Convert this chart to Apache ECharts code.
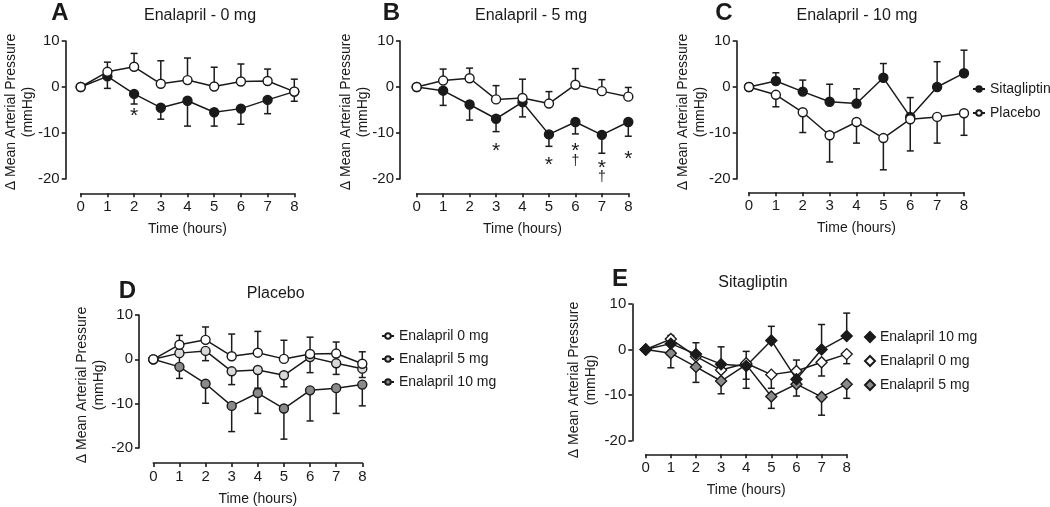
<!DOCTYPE html>
<html>
<head>
<meta charset="utf-8">
<script src="https://cdn.jsdelivr.net/npm/echarts@6/dist/echarts.min.js"></script>
<style>
html, body { margin: 0; padding: 0; background: #fff; }
#chart { width: 1050px; height: 507px; }
</style>
</head>
<body>
<div id="chart"></div>
<script>
// time points (hours)
var hours = [0, 1, 2, 3, 4, 5, 6, 7, 8];

// placebo arms (mean change, SEM), mmHg
var placebo0 = [0, 3.3, 4.4, 0.7, 1.5, 0.1, 1.2, 1.3, -1.0];
var placebo0Sem = [0, 2.1, 2.9, 5.0, 4.8, 4.2, 3.8, 2.6, 2.7];
var placebo5 = [0, 1.4, 1.9, -2.7, -2.4, -3.6, 0.5, -0.9, -2.1];
var placebo5Sem = [0, 2.5, 2.2, 3.0, 4.1, 2.6, 3.5, 2.5, 2.0];
var placebo10 = [0, -1.7, -5.5, -10.5, -7.6, -11.1, -7.0, -6.5, -5.7];
var placebo10Sem = [0, 2.6, 4.4, 5.8, 4.6, 6.9, 6.9, 5.7, 4.8];

// sitagliptin arms
var sita0 = [0, 2.3, -1.5, -4.5, -3.0, -5.5, -4.7, -2.8, -1.0];
var sita0Sem = [0, 2.6, 2.2, 2.5, 5.5, 3.0, 3.4, 3.0, 2.1];
var sita5 = [0, -0.8, -3.8, -6.9, -3.3, -10.3, -7.6, -10.4, -7.6];
var sita5Sem = [0, 3.2, 3.4, 2.8, 3.2, 2.6, 2.6, 4.0, 3.1];
var sita10 = [0, 1.3, -1.0, -3.2, -3.6, 2.0, -6.5, 0, 3.0];
var sita10Sem = [0, 1.8, 2.5, 3.8, 3.2, 3.1, 4.2, 5.5, 5.0];

// significance marks [hour, y, symbol]
var marksA = [[2, -5.4, '*']];
var marksB = [[3, -13, '*'], [5, -16.1, '*'], [6, -13, '*'], [6, -16.1, '\u2020'],
              [7, -16.6, '*'], [7, -19.6, '\u2020'], [8, -14.8, '*']];

var FONT = "'Liberation Sans', Arial, sans-serif";
var INK = '#1a1a1a';

// panel layout: grid box + axis offsets
var panels = [
  { left: 80.7, top: 41, width: 213.6, height: 138, yOff: 15, xOff: 14.3 },
  { left: 416.7, top: 41, width: 211.6, height: 138, yOff: 16.7, xOff: 14.3 },
  { left: 749, top: 41, width: 215, height: 138, yOff: 12.3, xOff: 13.3 },
  { left: 153.3, top: 315, width: 209, height: 134, yOff: 14.3, xOff: 15 },
  { left: 645.7, top: 304, width: 201, height: 136.7, yOff: 13.4, xOff: 13.6 }
];

var grids = [], xAxes = [], yAxes = [], series = [];

panels.forEach(function (p, i) {
  grids.push({ left: p.left, top: p.top, width: p.width, height: p.height });
  xAxes.push({
    type: 'value', gridIndex: i, min: 0, max: 8, interval: 1, offset: p.xOff,
    name: 'Time (hours)', nameLocation: 'middle', nameGap: 29,
    nameTextStyle: { fontSize: 14, fontFamily: FONT, color: INK },
    axisLine: { onZero: false, lineStyle: { color: INK, width: 1.6 } },
    axisTick: { length: 4, lineStyle: { color: INK, width: 1.6 } },
    axisLabel: { fontSize: 15, fontFamily: FONT, color: INK, margin: 6 },
    splitLine: { show: false }
  });
  yAxes.push({
    type: 'value', gridIndex: i, min: -20, max: 10, interval: 10, offset: p.yOff,
    axisLine: { show: true, onZero: false, lineStyle: { color: INK, width: 1.6 } },
    axisTick: { show: true, length: 4, lineStyle: { color: INK, width: 1.6 } },
    axisLabel: { fontSize: 15, fontFamily: FONT, color: INK, margin: 6 },
    splitLine: { show: false }
  });
});

function line(name, g, vals, fill, symbol, size) {
  return {
    name: name, type: 'line', xAxisIndex: g, yAxisIndex: g,
    data: hours.map(function (h, k) { return [h, vals[k]]; }),
    symbol: symbol, symbolSize: size, showSymbol: true,
    itemStyle: { color: fill, borderColor: INK, borderWidth: 1.4 },
    lineStyle: { color: INK, width: 1.5 },
    emphasis: { disabled: true }, z: 3, animation: false
  };
}

function errorBars(g, vals, sem, dir) {
  return {
    type: 'custom', xAxisIndex: g, yAxisIndex: g, z: 2, animation: false, silent: true,
    data: hours.map(function (h, k) { return [h, vals[k], vals[k] + dir * sem[k]]; }),
    encode: { x: 0, y: [1, 2] },
    renderItem: function (params, api) {
      var a = api.coord([api.value(0), api.value(1)]);
      var b = api.coord([api.value(0), api.value(2)]);
      if (Math.abs(a[1] - b[1]) < 0.5) return null;
      var st = { stroke: INK, lineWidth: 1.5 };
      return {
        type: 'group', children: [
          { type: 'line', shape: { x1: a[0], y1: a[1], x2: b[0], y2: b[1] }, style: st },
          { type: 'line', shape: { x1: b[0] - 3.5, y1: b[1], x2: b[0] + 3.5, y2: b[1] }, style: st }
        ]
      };
    }
  };
}

function marks(g, list) {
  return {
    type: 'custom', xAxisIndex: g, yAxisIndex: g, z: 4, animation: false, silent: true,
    data: list.map(function (m) { return [m[0], m[1]]; }),
    renderItem: function (params, api) {
      var m = list[params.dataIndex];
      var c = api.coord([m[0], m[1]]);
      var star = m[2] === '*';
      var size = star ? 21 : 14;
      return {
        type: 'text', x: c[0], y: c[1] + (star ? size * 0.22 : 0),
        style: { text: m[2], fill: INK, font: size + 'px ' + FONT,
                 textAlign: 'center', textVerticalAlign: 'middle' }
      };
    }
  };
}

var WHITE = '#ffffff', LIGHT = '#d9d9d9', GREY = '#8a8a8a';

// A: Enalapril 0 mg
series.push(errorBars(0, placebo0, placebo0Sem, 1), errorBars(0, sita0, sita0Sem, -1));
series.push(line('A|Sitagliptin', 0, sita0, INK, 'circle', 9), line('A|Placebo', 0, placebo0, WHITE, 'circle', 9));
series.push(marks(0, marksA));
// B: Enalapril 5 mg
series.push(errorBars(1, placebo5, placebo5Sem, 1), errorBars(1, sita5, sita5Sem, -1));
series.push(line('B|Sitagliptin', 1, sita5, INK, 'circle', 9), line('B|Placebo', 1, placebo5, WHITE, 'circle', 9));
series.push(marks(1, marksB));
// C: Enalapril 10 mg
series.push(errorBars(2, sita10, sita10Sem, 1), errorBars(2, placebo10, placebo10Sem, -1));
series.push(line('C|Sitagliptin', 2, sita10, INK, 'circle', 9), line('C|Placebo', 2, placebo10, WHITE, 'circle', 9));
// D: Placebo
series.push(errorBars(3, placebo0, placebo0Sem, 1), errorBars(3, placebo5, placebo5Sem, -1), errorBars(3, placebo10, placebo10Sem, -1));
series.push(line('D|Enalapril 10 mg', 3, placebo10, GREY, 'circle', 9),
            line('D|Enalapril 5 mg', 3, placebo5, LIGHT, 'circle', 9),
            line('D|Enalapril 0 mg', 3, placebo0, WHITE, 'circle', 9));
// E: Sitagliptin
series.push(errorBars(4, sita10, sita10Sem, 1), errorBars(4, sita0, sita0Sem, -1), errorBars(4, sita5, sita5Sem, -1));
series.push(line('E|Enalapril 5 mg', 4, sita5, GREY, 'diamond', 11),
            line('E|Enalapril 0 mg', 4, sita0, WHITE, 'diamond', 11),
            line('E|Enalapril 10 mg', 4, sita10, INK, 'diamond', 11));

function stripName(n) { return n.split('|')[1]; }

var legendBase = {
  orient: 'vertical', selectedMode: false, formatter: stripName,
  itemWidth: 12, itemHeight: 7, textStyle: { fontSize: 14, fontFamily: FONT, color: INK }
};

var legends = [
  Object.assign({}, legendBase, { data: ['C|Sitagliptin', 'C|Placebo'], left: 967, top: 77, itemGap: 10 }),
  Object.assign({}, legendBase, { data: ['D|Enalapril 0 mg', 'D|Enalapril 5 mg', 'D|Enalapril 10 mg'], left: 376, top: 324, itemGap: 9 }),
  Object.assign({}, legendBase, { data: [
      { name: 'E|Enalapril 10 mg', icon: 'diamond' },
      { name: 'E|Enalapril 0 mg', icon: 'diamond' },
      { name: 'E|Enalapril 5 mg', icon: 'diamond' }],
    left: 859, top: 325, itemGap: 10, itemWidth: 10, itemHeight: 10 })
];

function txt(x, y, s, font, rot) {
  return { type: 'text', x: x, y: y, rotation: rot || 0, silent: true,
    style: { text: s, font: font, fill: INK, textAlign: 'center', textVerticalAlign: 'middle', lineHeight: 17 } };
}

var yName = '\u0394 Mean Arterial Pressure\n(mmHg)';
var letterFont = 'bold 24px ' + FONT, titleFont = '16px ' + FONT, nameFont = '14px ' + FONT;

var graphics = [
  txt(60, 13, 'A', letterFont), txt(391.5, 13, 'B', letterFont), txt(724, 13, 'C', letterFont),
  txt(127.5, 291, 'D', letterFont), txt(620, 279.5, 'E', letterFont),
  txt(200, 16, 'Enalapril - 0 mg', titleFont), txt(531, 16, 'Enalapril - 5 mg', titleFont),
  txt(857, 16, 'Enalapril - 10 mg', titleFont), txt(275.7, 294, 'Placebo', titleFont),
  txt(753, 282.7, 'Sitagliptin', titleFont),
  txt(20, 112, yName, nameFont, Math.PI / 2), txt(355, 112, yName, nameFont, Math.PI / 2),
  txt(692, 112, yName, nameFont, Math.PI / 2), txt(91, 385, yName, nameFont, Math.PI / 2),
  txt(583, 380, yName, nameFont, Math.PI / 2)
];

var chart = echarts.init(document.getElementById('chart'));
chart.setOption({
  backgroundColor: '#fff',
  animation: false,
  grid: grids,
  xAxis: xAxes,
  yAxis: yAxes,
  legend: legends,
  graphic: graphics,
  series: series
});
</script>
</body>
</html>
